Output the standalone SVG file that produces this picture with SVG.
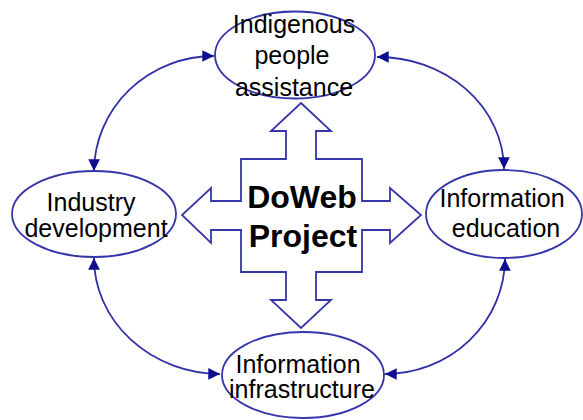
<svg xmlns="http://www.w3.org/2000/svg" width="583" height="420" viewBox="0 0 583 420">
  <style>
    .node-shape { fill: #ffffff; stroke: #3636aa; stroke-width: 1.8; }
    .label { font-family: "Liberation Sans", Arial, sans-serif; font-size: 25px; fill: #000000; text-anchor: middle; }
    .hub-label { font-family: "Liberation Sans", Arial, sans-serif; font-size: 32px; font-weight: bold; fill: #000000; text-anchor: middle; }
    .hub-shape { fill: #ffffff; stroke: #3636aa; stroke-width: 1.8; stroke-linejoin: miter; }
    .link { fill: none; stroke: #3030a6; stroke-width: 1.8; marker-start: url(#head); marker-end: url(#head); }
  </style>
  <defs>
    <marker id="head" viewBox="0 0 10 10" refX="10" refY="5" markerWidth="6.5" markerHeight="6.5" orient="auto-start-reverse">
      <path d="M0,0 L10,5 L0,10 Z" fill="#0d0d90"/>
    </marker>
  </defs>

  <rect width="583" height="420" fill="#ffffff"/>

  <!-- central four-way arrow -->
  <g id="hub">
    <polygon class="hub-shape" points="301,103 331,131 316,131 316,159 362,159 362,201 390,201 390,188 421,215 390,243 390,230 362,230 362,272 316,272 316,300 331,300 301,328 271,300 286,300 286,272 241,272 241,230 211,230 211,243 182,215 211,188 211,201 241,201 241,159 286,159 286,131 271,131"/>
    <text class="hub-label" x="302" y="208">DoWeb</text>
    <text class="hub-label" x="303" y="247">Project</text>
  </g>

  <!-- curved two-way links between the outer nodes -->
  <g id="connectors">
    <path class="link" d="M 214 56 A 120 116 0 0 0 94 171"/>
    <path class="link" d="M 377 57 A 126 113 0 0 1 504 169"/>
    <path class="link" d="M 94 258 A 127 116 0 0 0 220 374"/>
    <path class="link" d="M 385 374 A 120 116 0 0 0 505 259"/>
  </g>

  <g id="node-indigenous">
    <ellipse class="node-shape" cx="295" cy="55" rx="80" ry="43.5"/>
    <text class="label" x="294" y="33">Indigenous</text>
    <text class="label" x="292" y="64">people</text>
    <text class="label" x="294" y="96">assistance</text>
  </g>

  <g id="node-industry">
    <ellipse class="node-shape" cx="94" cy="214" rx="82" ry="43"/>
    <text class="label" x="91" y="211">Industry</text>
    <text class="label" x="96" y="237">development</text>
  </g>

  <g id="node-education">
    <ellipse class="node-shape" cx="504" cy="214" rx="78" ry="44"/>
    <text class="label" x="502" y="207">Information</text>
    <text class="label" x="506" y="237">education</text>
  </g>

  <g id="node-infrastructure">
    <ellipse class="node-shape" cx="303" cy="375" rx="81" ry="43"/>
    <text class="label" x="298" y="373">Information</text>
    <text class="label" x="302" y="398">infrastructure</text>
  </g>
</svg>
